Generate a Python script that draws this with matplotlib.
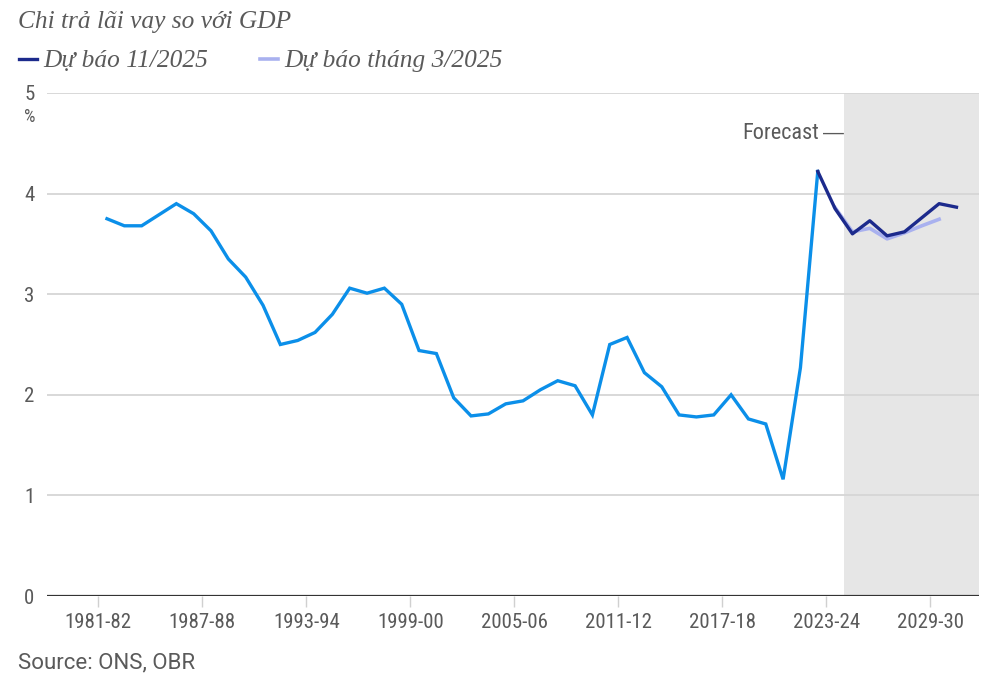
import matplotlib
import matplotlib.pyplot as plt
import matplotlib.transforms as mtransforms
import numpy as np

matplotlib.use("Agg")

# Interest payments as a share of GDP, fiscal years starting 1981-82
FIRST_YEAR = 1981
outturn = [
    3.75, 3.68, 3.68, 3.79, 3.90, 3.80, 3.63, 3.35, 3.17, 2.89,
    2.50, 2.54, 2.62, 2.80, 3.06, 3.01, 3.06, 2.90, 2.44, 2.41,
    1.97, 1.79, 1.81, 1.91, 1.94, 2.05, 2.14, 2.09, 1.80, 2.50,
    2.57, 2.22, 2.08, 1.80, 1.78, 1.80, 2.00, 1.76, 1.71, 1.16,
    2.27, 4.22,
]
# Forecast Nov 2025 starts at 2022-23, March 2025 at 2023-24
nov2025_start = 2022
nov2025 = [4.22, 3.85, 3.60, 3.73, 3.58, 3.62, 3.76, 3.90, 3.865]
mar2025_start = 2023
mar2025 = [3.86, 3.62, 3.655, 3.55, 3.61, 3.68, 3.745]

forecast_start = 2024
tick_years = [1981, 1987, 1993, 1999, 2005, 2011, 2017, 2023, 2029]
tick_labels = ["1981-82", "1987-88", "1993-94", "1999-00", "2005-06",
               "2011-12", "2017-18", "2023-24", "2029-30"]
y_ticks = [0, 1, 2, 3, 4, 5]

TITLE = "Chi trả lãi vay so với GDP"
LABEL_NOV = "Dự báo 11/2025"
LABEL_MAR = "Dự báo tháng 3/2025"
SOURCE = "Source: ONS, OBR"

BLUE = "#0b8fe9"
NAVY = "#1c2a8c"
LAVENDER = "#a9b1ef"
GREY_TEXT = "#5a5a5a"
NARROW = ["Roboto Condensed", "IBM Plex Sans Condensed", "Roboto"]
SERIF = ["Liberation Serif", "DejaVu Serif"]

W_PX, H_PX = 1001, 683
fig = plt.figure(figsize=(W_PX / 100, H_PX / 100), dpi=100)
ax = fig.add_axes([47 / W_PX, 87 / H_PX, (979 - 47) / W_PX, (596 - 93) / H_PX])

x_out = FIRST_YEAR + 0.5 + np.arange(len(outturn))
x_nov = nov2025_start + 0.5 + np.arange(len(nov2025))
x_mar = mar2025_start + 0.5 + np.arange(len(mar2025))

ax.axvspan(forecast_start, 2031.8, color="#e6e6e6", lw=0, zorder=0)
for v in y_ticks[1:]:
    ax.axhline(v, color="#d6d6d6", lw=1.3, zorder=1)
ax.axhline(0, color="#333333", lw=1.6, zorder=4)

ax.plot(x_out, outturn, color=BLUE, lw=2.4, solid_joinstyle="miter", zorder=3)
ax.plot(x_mar, mar2025, color=LAVENDER, lw=2.6, zorder=3, label=LABEL_MAR)
ax.plot(x_nov, nov2025, color=NAVY, lw=2.4, zorder=3, label=LABEL_NOV)

ax.set_xlim(1978.04, 2031.8)
ax.set_ylim(0, 5)
for spine in ax.spines.values():
    spine.set_visible(False)

ax.set_yticks(y_ticks)
ax.set_yticklabels([str(v) for v in y_ticks])
ax.tick_params(axis="y", length=0, pad=9, labelsize=15, labelcolor=GREY_TEXT)
ax.set_xticks(tick_years)
ax.set_xticklabels(tick_labels)
ax.tick_params(axis="x", length=8, width=1, color="#d0d0d0", pad=4,
               labelsize=15, labelcolor=GREY_TEXT)
for lbl in ax.get_xticklabels() + ax.get_yticklabels():
    lbl.set_family(NARROW)

ax.text(-0.012, 0.952, "%", transform=ax.transAxes, ha="right", va="center",
        fontsize=13, color=GREY_TEXT, family=NARROW)

# "Forecast —" label ending at the shaded area
ax.text(forecast_start, 4.6, "\u2014", ha="right", va="center",
        fontsize=15, color=GREY_TEXT, family=["Liberation Sans", "DejaVu Sans"])
shift = mtransforms.offset_copy(ax.transData, fig=fig, x=-25, y=0, units="dots")
ax.text(forecast_start, 4.6, "Forecast", ha="right", va="center",
        fontsize=16, color=GREY_TEXT, family=NARROW, transform=shift)

fig.text(18 / W_PX, 1 - 22 / H_PX, TITLE, ha="left", va="center",
         fontsize=18.3, style="italic", color=GREY_TEXT, family=SERIF)

handles, labels = ax.get_legend_handles_labels()
fig.legend(handles[::-1], labels[::-1], loc="center left",
           bbox_to_anchor=(19 / W_PX, 1 - 61 / H_PX), ncol=2, frameon=False,
           handlelength=0.7, handletextpad=0.25, columnspacing=2.05,
           borderaxespad=0, borderpad=0,
           prop={"family": SERIF, "style": "italic", "size": 18.3},
           labelcolor=GREY_TEXT)

fig.text(18 / W_PX, 1 - 663 / H_PX, SOURCE, ha="left", va="center",
         fontsize=16, color=GREY_TEXT, family=["Roboto", "DejaVu Sans"])

fig.savefig("out.png", dpi=100, facecolor="white")
